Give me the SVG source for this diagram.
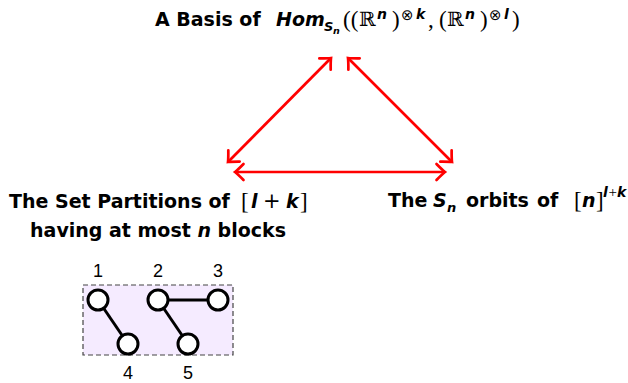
<svg xmlns="http://www.w3.org/2000/svg" width="628" height="383" viewBox="0 0 628 383">
<style>
.sb{font-family:"DejaVu Sans",sans-serif;font-weight:bold;font-size:19px;fill:#000}
.mi{font-family:"DejaVu Sans",sans-serif;font-weight:bold;font-style:italic;fill:#000}
.rm{font-family:"Liberation Serif","DejaVu Serif",serif;font-weight:normal;font-style:normal;fill:#000}
.bb{font-family:"DejaVu Serif","DejaVu Sans",serif;font-weight:normal;font-style:normal;fill:#000}
.op{font-family:"DejaVu Sans",sans-serif;font-weight:normal;font-style:normal;fill:#000}
.arrow{stroke:#ff0000;stroke-width:2.7;fill:none;marker-start:url(#head);marker-end:url(#head)}
.edge{stroke:#000;stroke-width:3}
.pt{fill:#fff;stroke:#000;stroke-width:3}
.num{font-family:"Liberation Sans",sans-serif;font-size:18px;fill:#000;text-anchor:middle}
</style>
<defs>
<marker id="head" markerUnits="userSpaceOnUse" viewBox="-12 -12 14 24" markerWidth="14" markerHeight="24" refX="0" refY="0" orient="auto-start-reverse" overflow="visible">
<path d="M-8.5,-8 Q-2.6,-2 0,0 Q-2.6,2 -8.5,8" fill="none" stroke="#ff0000" stroke-width="2.7" stroke-linecap="round"/>
</marker>
</defs>
<rect width="628" height="383" fill="#fff"/>

<g id="node-title">
<text y="26"><tspan class="sb" x="155">A Basis of</tspan><tspan class="mi" x="276" font-size="19">Hom</tspan><tspan class="mi" x="324" y="31" font-size="13">S</tspan><tspan class="mi" x="333" y="34" font-size="9.5">n</tspan><tspan class="rm" x="343" y="27" font-size="23">((</tspan><tspan class="bb" x="359" y="26" font-size="20">ℝ</tspan><tspan class="mi" x="377" y="19" font-size="14">n</tspan><tspan class="rm" x="392" y="27" font-size="23">)</tspan><tspan class="op" x="401" y="20" font-size="15">⊗</tspan><tspan class="mi" x="416" y="19" font-size="14">k</tspan><tspan class="rm" x="428" y="27" font-size="23">,</tspan><tspan class="rm" x="439" font-size="23">(</tspan><tspan class="bb" x="447" y="26" font-size="20">ℝ</tspan><tspan class="mi" x="465" y="19" font-size="14">n</tspan><tspan class="rm" x="480" y="27" font-size="23">)</tspan><tspan class="op" x="489" y="20" font-size="15">⊗</tspan><tspan class="mi" x="504" y="19" font-size="14">l</tspan><tspan class="rm" x="512" y="27" font-size="23">)</tspan></text>
</g>

<g id="node-partitions">
<text y="208"><tspan class="sb" x="9">The Set Partitions of</tspan><tspan class="rm" x="241" y="209" font-size="23">[</tspan><tspan class="mi" x="251" y="208" font-size="19">l</tspan><tspan class="op" x="263" font-size="21">+</tspan><tspan class="mi" x="286" font-size="19">k</tspan><tspan class="rm" x="300" y="209" font-size="23">]</tspan></text>
<text class="sb" x="158" y="237" text-anchor="middle">having at most <tspan class="mi">n</tspan> blocks</text>
</g>

<g id="node-orbits">
<text y="207"><tspan class="sb" x="388">The</tspan><tspan class="mi" x="433" font-size="19">S</tspan><tspan class="mi" x="447" y="212" font-size="13">n</tspan><tspan class="sb" x="466" y="207">orbits</tspan><tspan class="sb" x="537">of</tspan><tspan class="rm" x="574" y="208" font-size="23">[</tspan><tspan class="mi" x="582" y="207" font-size="19">n</tspan><tspan class="rm" x="596" y="208" font-size="23">]</tspan><tspan class="mi" x="603" y="197" font-size="14">l</tspan><tspan class="rm" x="608.5" font-size="15">+</tspan><tspan class="mi" x="617" font-size="14">k</tspan></text>
</g>

<g id="connectors">
<line class="arrow" x1="228" y1="162" x2="331" y2="58"/>
<line class="arrow" x1="348" y1="58" x2="452" y2="162"/>
<line class="arrow" x1="235" y1="172" x2="445" y2="172"/>
</g>

<g id="partition-diagram">
<rect x="83" y="285" width="150" height="70" fill="#f5ebff" stroke="#444" stroke-width="1.2" stroke-dasharray="5 3"/>
<g id="partition-edges">
<line class="edge" x1="98" y1="300" x2="128" y2="344"/>
<line class="edge" x1="158" y1="300" x2="218" y2="300"/>
<line class="edge" x1="158" y1="300" x2="188" y2="344"/>
</g>
<g id="p1"><circle class="pt" cx="98" cy="300" r="10"/><text class="num" x="98" y="277">1</text></g>
<g id="p2"><circle class="pt" cx="158" cy="300" r="10"/><text class="num" x="158" y="277">2</text></g>
<g id="p3"><circle class="pt" cx="218" cy="300" r="10"/><text class="num" x="218" y="277">3</text></g>
<g id="p4"><circle class="pt" cx="128" cy="344" r="10"/><text class="num" x="128" y="379">4</text></g>
<g id="p5"><circle class="pt" cx="188" cy="344" r="10"/><text class="num" x="188" y="379">5</text></g>
</g>
</svg>
